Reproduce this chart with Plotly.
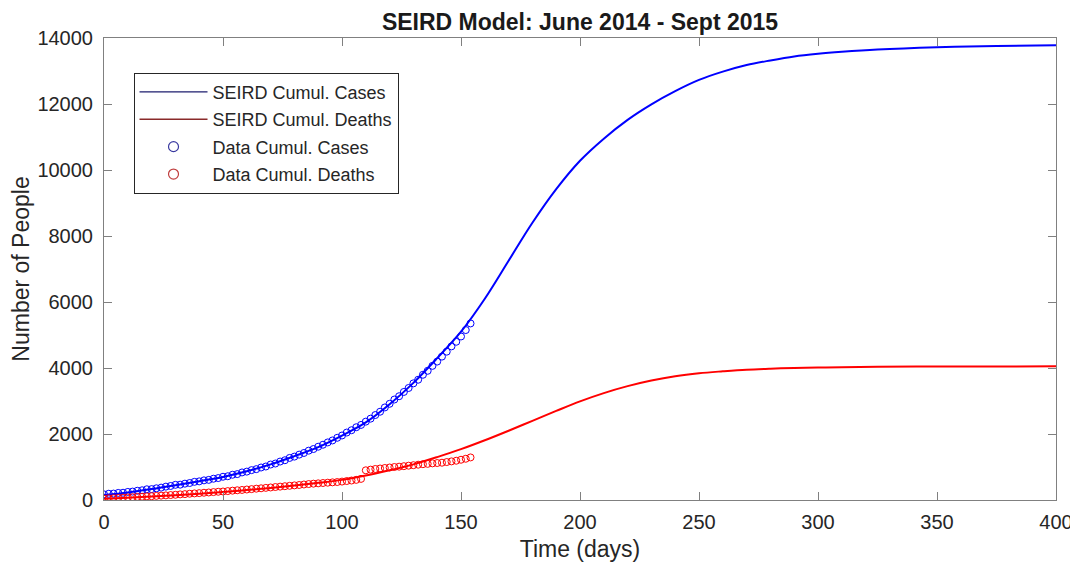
import plotly.graph_objects as go

# Model curves
model_days = [0, 10, 20, 30, 40, 50, 60, 70, 80, 90, 100, 110, 120, 130, 140, 150, 160, 170, 180,
              190, 200, 210, 220, 230, 240, 250, 260, 270, 280, 290, 300, 310, 325, 350, 375, 400]
model_cases = [150, 230, 330, 450, 570, 700, 870, 1080, 1330, 1600, 1950, 2350, 2900, 3550, 4300,
               5100, 6100, 7250, 8400, 9420, 10280, 10950, 11520, 11990, 12390, 12730, 12980, 13180,
               13320, 13440, 13520, 13580, 13650, 13720, 13760, 13780]
model_deaths = [40, 70, 105, 145, 190, 245, 300, 365, 440, 520, 610, 740, 900, 1080, 1300, 1540,
                1810, 2100, 2400, 2700, 2990, 3240, 3450, 3620, 3750, 3840, 3900, 3950, 3980, 4000,
                4015, 4025, 4035, 4045, 4048, 4050]

# Observed data
data_days = [0, 2, 4, 6, 8, 10, 12, 14, 16, 18, 20, 22, 24, 26, 28, 30, 32, 34, 36, 38, 40, 42, 44,
             46, 48, 50, 52, 54, 56, 58, 60, 62, 64, 66, 68, 70, 72, 74, 76, 78, 80, 82, 84, 86, 88,
             90, 92, 94, 96, 98, 100, 102, 104, 106, 108, 110, 112, 114, 116, 118, 120, 122, 124,
             126, 128, 130, 132, 134, 136, 138, 140, 142, 144, 146, 148, 150, 152, 154]
data_cases = [170, 190, 195, 215, 220, 245, 255, 280, 295, 325, 330, 355, 375, 405, 425, 460, 465,
              495, 515, 550, 565, 595, 610, 645, 665, 705, 720, 765, 785, 835, 860, 905, 935, 985,
              1015, 1075, 1105, 1165, 1205, 1275, 1315, 1375, 1425, 1495, 1545, 1615, 1675, 1745,
              1805, 1885, 1955, 2045, 2115, 2205, 2275, 2375, 2465, 2575, 2675, 2805, 2915, 3045,
              3145, 3275, 3395, 3535, 3645, 3795, 3915, 4065, 4195, 4345, 4495, 4655, 4795, 4955,
              5150, 5350]
data_deaths = [40, 50, 55, 62, 70, 78, 86, 95, 100, 110, 115, 125, 132, 140, 150, 158, 170, 178,
               190, 200, 208, 220, 228, 240, 250, 258, 270, 283, 295, 305, 318, 330, 343, 355, 368,
               380, 393, 405, 418, 430, 443, 455, 470, 483, 495, 505, 515, 525, 535, 545, 558, 575,
               590, 610, 640, 900, 920, 940, 955, 970, 985, 1000, 1010, 1025, 1040, 1055, 1070, 1085,
               1095, 1110, 1120, 1130, 1150, 1170, 1190, 1220, 1250, 1290]

x_ticks = [0, 50, 100, 150, 200, 250, 300, 350, 400]
y_ticks = [0, 2000, 4000, 6000, 8000, 10000, 12000, 14000]

BLUE = "#0000FF"
RED = "#FF0000"
FONT = "Liberation Sans, Arial, sans-serif"

fig = go.Figure()

fig.add_trace(go.Scatter(x=model_days, y=model_cases, mode="lines", line=dict(color=BLUE, width=2, shape="spline"),
                         showlegend=False))
fig.add_trace(go.Scatter(x=model_days, y=model_deaths, mode="lines", line=dict(color=RED, width=2, shape="spline"),
                         showlegend=False))
fig.add_trace(go.Scatter(x=data_days, y=data_cases, mode="markers",
                         marker=dict(symbol="circle-open", size=7, color=BLUE, line=dict(width=1)),
                         showlegend=False))
fig.add_trace(go.Scatter(x=data_days, y=data_deaths, mode="markers",
                         marker=dict(symbol="circle-open", size=7, color=RED, line=dict(width=1)),
                         showlegend=False))

# legend entries (MATLAB-style darker legend glyphs)
fig.add_trace(go.Scatter(x=[None], y=[None], mode="lines", line=dict(color="#1c1c6e", width=1.3),
                         name="SEIRD Cumul. Cases", legendgroup="a"))
fig.add_trace(go.Scatter(x=[None], y=[None], mode="lines", line=dict(color="#8a2a2a", width=1.3),
                         name="SEIRD Cumul. Deaths", legendgroup="b"))
fig.add_trace(go.Scatter(x=[None], y=[None], mode="markers",
                         marker=dict(symbol="circle-open", size=10, color="#3a3aa0", line=dict(width=1.2)),
                         name="Data Cumul. Cases", legendgroup="c"))
fig.add_trace(go.Scatter(x=[None], y=[None], mode="markers",
                         marker=dict(symbol="circle-open", size=10, color="#c04040", line=dict(width=1.2)),
                         name="Data Cumul. Deaths", legendgroup="d"))

axis_common = dict(showline=True, linecolor="#808080", linewidth=1, mirror="ticks",
                   ticks="inside", ticklen=8, tickcolor="#808080", showgrid=False, zeroline=False,
                   automargin=False,
                   tickfont=dict(family=FONT, size=20, color="#262626"))

fig.update_layout(
    width=1078, height=567,
    margin=dict(l=96, r=30, t=30, b=75),
    paper_bgcolor="white", plot_bgcolor="white",
    title=dict(text="<b>SEIRD Model: June 2014 - Sept 2015</b>", x=0.5, xanchor="center", xref="paper",
               y=0.976, yanchor="middle", yref="container",
               font=dict(family=FONT, size=23, color="#1a1a1a")),
    xaxis=dict(range=[0, 400], tickvals=x_ticks, ticktext=[str(v) for v in x_ticks],
               ticklabelstandoff=4,
               title=dict(text="Time (days)", font=dict(family=FONT, size=23, color="#262626"), standoff=8),
               **axis_common),
    yaxis=dict(range=[0, 14000], tickvals=y_ticks, ticktext=[str(v) for v in y_ticks],
               ticklabelstandoff=6,
               title=dict(text="Number of People", font=dict(family=FONT, size=23, color="#262626"), standoff=6),
               **axis_common),
    legend=dict(x=0.031, y=0.925, xanchor="left", yanchor="top",
                bgcolor="white", bordercolor="#262626", borderwidth=1,
                font=dict(family=FONT, size=18, color="#262626"),
                tracegroupgap=1, itemwidth=68),
)

fig.write_html("out.html")
